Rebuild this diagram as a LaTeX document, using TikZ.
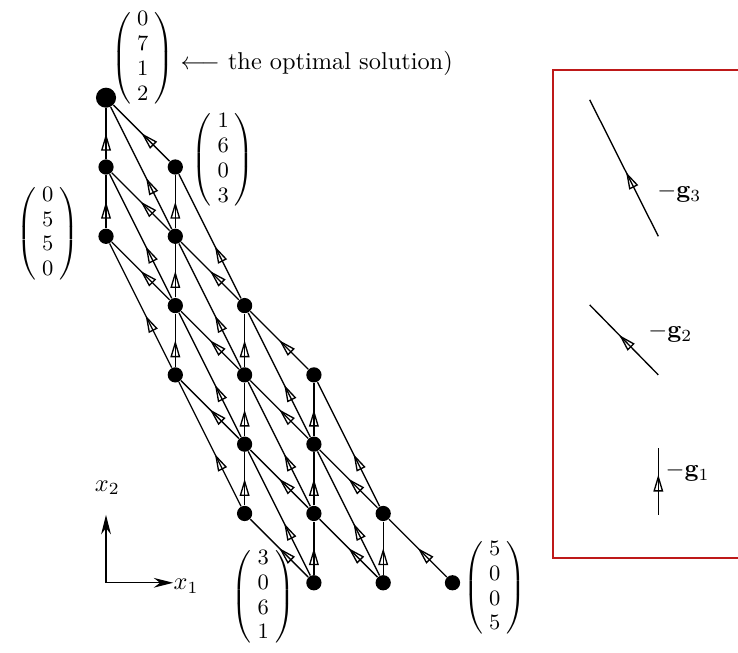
\documentclass[tikz,border=0pt]{standalone}
\usepackage{amsmath}
\usetikzlibrary{arrows.meta,decorations.markings}
\definecolor{boxred}{RGB}{190,25,25}
\newcommand{\colvec}[4]{{\renewcommand{\arraystretch}{0.93}\left(\begin{array}{@{\hspace{2.5pt}}c@{\hspace{2.5pt}}}#1\\#2\\#3\\#4\end{array}\right)}}

\begin{document}
\begin{tikzpicture}[
    dot/.style={circle, fill=black, inner sep=0pt, minimum size=2.2mm},
    bigdot/.style={dot, minimum size=2.9mm},
    flow/.style={line width=0.55pt, postaction={decorate},
        decoration={markings, mark=at position #1 with {\arrow{Triangle[open, length=7pt, width=4pt]}}}},
    flow/.default=0.5,
    axis/.style={line width=0.5pt, -{Stealth[length=8pt, width=4pt]}},
    vec/.style={inner sep=0pt, font=\small},
    glabel/.style={anchor=west, inner sep=0pt}
    ]
    \clip (-1.53,-1.0) rectangle (9.12,8.41);

    \node[bigdot] (p07) at (0,7) {};
    \node[dot] (p06) at (0,6) {};
    \node[dot] (p16) at (1,6) {};
    \node[dot] (p05) at (0,5) {};
    \node[dot] (p15) at (1,5) {};
    \node[dot] (p14) at (1,4) {};
    \node[dot] (p24) at (2,4) {};
    \node[dot] (p13) at (1,3) {};
    \node[dot] (p23) at (2,3) {};
    \node[dot] (p33) at (3,3) {};
    \node[dot] (p22) at (2,2) {};
    \node[dot] (p32) at (3,2) {};
    \node[dot] (p21) at (2,1) {};
    \node[dot] (p31) at (3,1) {};
    \node[dot] (p41) at (4,1) {};
    \node[dot] (p30) at (3,0) {};
    \node[dot] (p40) at (4,0) {};
    \node[dot] (p50) at (5,0) {};

    \draw[flow] (p50) -- (p41);
    \draw[flow] (p40) -- (p41);
    \draw[flow] (p40) -- (p31);
    \draw[flow=0.42] (p40) -- (p32);
    \draw[flow] (p30) -- (p31);
    \draw[flow] (p30) -- (p21);
    \draw[flow=0.42] (p30) -- (p22);
    \draw[flow] (p41) -- (p32);
    \draw[flow=0.42] (p41) -- (p33);
    \draw[flow] (p31) -- (p32);
    \draw[flow] (p31) -- (p22);
    \draw[flow=0.42] (p31) -- (p23);
    \draw[flow] (p21) -- (p22);
    \draw[flow=0.42] (p21) -- (p13);
    \draw[flow] (p32) -- (p33);
    \draw[flow] (p32) -- (p23);
    \draw[flow=0.42] (p32) -- (p24);
    \draw[flow] (p22) -- (p23);
    \draw[flow] (p22) -- (p13);
    \draw[flow=0.42] (p22) -- (p14);
    \draw[flow] (p33) -- (p24);
    \draw[flow] (p23) -- (p24);
    \draw[flow] (p23) -- (p14);
    \draw[flow=0.42] (p23) -- (p15);
    \draw[flow] (p13) -- (p14);
    \draw[flow=0.42] (p13) -- (p05);
    \draw[flow] (p24) -- (p15);
    \draw[flow=0.42] (p24) -- (p16);
    \draw[flow] (p14) -- (p15);
    \draw[flow] (p14) -- (p05);
    \draw[flow=0.42] (p14) -- (p06);
    \draw[flow] (p15) -- (p16);
    \draw[flow] (p15) -- (p06);
    \draw[flow=0.42] (p15) -- (p07);
    \draw[flow] (p05) -- (p06);
    \draw[flow] (p16) -- (p07);
    \draw[flow] (p06) -- (p07);

    \node[vec] (v07) at (0.53,7.57) {$\colvec0712$};
    \node[vec] (v16) at (1.69,6.1) {$\colvec1603$};
    \node[vec] (v05) at (-0.84,5.04) {$\colvec0550$};
    \node[vec] (v30) at (2.27,-0.2) {$\colvec3061$};
    \node[vec] (v50) at (5.61,-0.07) {$\colvec5005$};
    \node[anchor=west, inner sep=0pt] (opt) at (1.07,7.5) {$\longleftarrow$ the optimal solution)};

    \coordinate (o) at (0,0);
    \coordinate (e1) at (0.97,0);
    \coordinate (e2) at (0,0.98);
    \draw[axis] (o) -- (e1);
    \draw[axis] (o) -- (e2);
    \node[anchor=base west, inner sep=0pt] (x1) at (0.97,-0.1) {$x_1$};
    \node[inner sep=0pt] (x2) at (0.02,1.37) {$x_2$};

    \draw[boxred, line width=0.8pt] (6.45,0.36) rectangle (9.6,7.40);
    \coordinate (g3a) at (7.97,5.0);
    \coordinate (g3b) at (6.98,6.97);
    \coordinate (g2a) at (7.97,3.0);
    \coordinate (g2b) at (6.98,4.01);
    \coordinate (g1a) at (7.97,0.98);
    \coordinate (g1b) at (7.97,1.95);
    \draw[flow=0.47] (g3a) -- (g3b);
    \draw[flow=0.57] (g2a) -- (g2b);
    \draw[flow=0.6] (g1a) -- (g1b);
    \node[glabel] (g3) at (7.95,5.63) {$-\mathbf{g}_3$};
    \node[glabel] (g2) at (7.82,3.61) {$-\mathbf{g}_2$};
    \node[glabel] (g1) at (8.07,1.6) {$-\mathbf{g}_1$};
\end{tikzpicture}
\end{document}
